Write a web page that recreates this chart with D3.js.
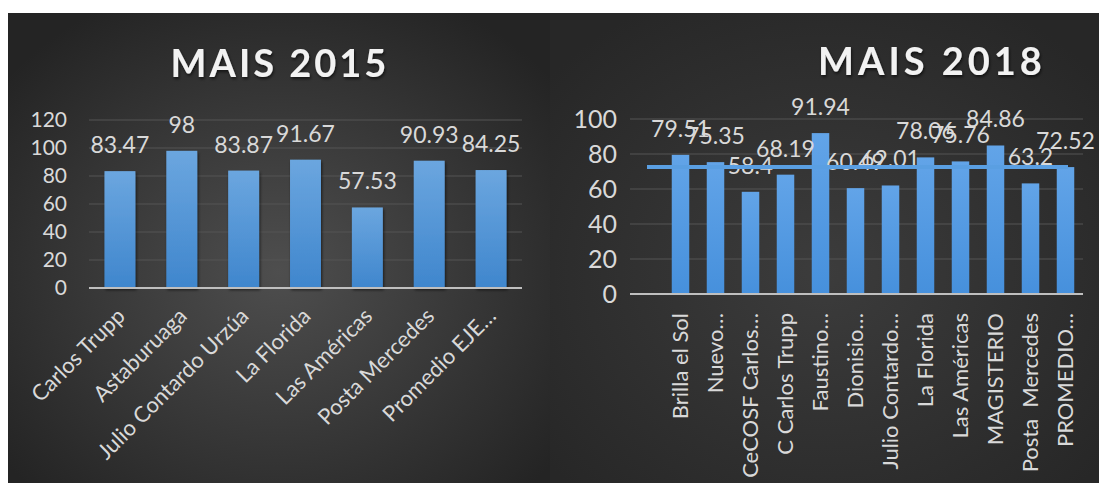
<!DOCTYPE html>
<html>
<head>
<meta charset="utf-8">
<script src="https://cdn.jsdelivr.net/npm/d3@7"></script>
<style>
body {margin:0; background:#ffffff;}
svg text {font-family: Lato, "Open Sans", sans-serif; white-space: pre;}
</style>
</head>
<body>
<svg width="1099" height="483"></svg>
<script>

// two MAIS bar charts side by side

var cat2015 = ["Carlos Trupp","Astaburuaga","Julio Contardo Urzúa","La Florida","Las Américas","Posta Mercedes","Promedio EJE…"]
var val2015 = [83.47, 98, 83.87, 91.67, 57.53, 90.93, 84.25]
var ticks2015 = [0,20,40,60,80,100,120]

var cat2018 = ["Brilla el Sol","Nuevo…","CeCOSF Carlos…","C Carlos Trupp","Faustino…","Dionisio…","Julio Contardo…","La Florida","Las Américas","MAGISTERIO","Posta  Mercedes","PROMEDIO…"]
var val2018 = [79.51, 75.35, 58.4, 68.19, 91.94, 60.49, 62.01, 78.06, 75.76, 84.86, 63.2, 72.52]
var ticks2018 = [0,20,40,60,80,100]
var avg2018 = 72.52

var svg = d3.select("svg")
var defs = svg.append("defs")

var bg1 = defs.append("radialGradient").attr("id","bg1").attr("cx","50%").attr("cy","55%").attr("r","65%")
bg1.append("stop").attr("offset","0%").attr("stop-color","#4e4e4e")
bg1.append("stop").attr("offset","100%").attr("stop-color","#242424")

var bg2 = defs.append("radialGradient").attr("id","bg2").attr("cx","50%").attr("cy","55%").attr("r","65%")
bg2.append("stop").attr("offset","0%").attr("stop-color","#3c3c3c")
bg2.append("stop").attr("offset","100%").attr("stop-color","#272727")

var barGrad = defs.append("linearGradient").attr("id","barGrad").attr("x1",0).attr("y1",0).attr("x2",0).attr("y2",1)
barGrad.append("stop").attr("offset","0%").attr("stop-color","#6ba6df")
barGrad.append("stop").attr("offset","100%").attr("stop-color","#3f86cd")

var barGrad2 = defs.append("linearGradient").attr("id","barGrad2").attr("x1",0).attr("y1",0).attr("x2",0).attr("y2",1)
barGrad2.append("stop").attr("offset","0%").attr("stop-color","#62a4e8")
barGrad2.append("stop").attr("offset","100%").attr("stop-color","#4690dc")

var shadow = defs.append("filter").attr("id","shadow").attr("x","-20%").attr("y","-20%").attr("width","140%").attr("height","160%")
shadow.append("feDropShadow").attr("dx",1).attr("dy",2).attr("stdDeviation",1.5).attr("flood-color","#000").attr("flood-opacity",0.6)

svg.append("rect").attr("x",8).attr("y",13).attr("width",542).attr("height",470).attr("fill","url(#bg1)")
svg.append("rect").attr("x",550).attr("y",13).attr("width",549).attr("height",470).attr("fill","url(#bg2)")


var drawChart = function(opt)
{
    var g = svg.append("g")

    var xScale = d3.scaleBand()
                   .domain(opt.cats)
                   .range([opt.x0, opt.x1])
                   .paddingInner(opt.padIn)
                   .paddingOuter(opt.padIn/2)

    var yScale = d3.scaleLinear()
                   .domain([0, opt.max])
                   .range([opt.yBottom, opt.yTop])

    // gridlines
    g.selectAll(".grid")
     .data(opt.ticks.slice(1))
     .enter()
     .append("line")
     .attr("x1", opt.gx0)
     .attr("x2", opt.x1)
     .attr("y1", function(d){ return yScale(d)})
     .attr("y2", function(d){ return yScale(d)})
     .attr("stroke", "#555555")
     .attr("stroke-width", 1)

    var yAxis = d3.axisLeft(yScale).tickValues(opt.ticks).tickSize(0).tickPadding(0)
    var ya = g.append("g")
      .attr("transform","translate("+opt.tickX+",0)")
      .call(yAxis)
    ya.select(".domain").remove()
    ya.selectAll("text")
      .attr("fill","#d9d9d9")
      .style("font-size", opt.tickSize+"px")

    // bars
    g.selectAll(".bar")
     .data(opt.vals)
     .enter()
     .append("rect")
     .attr("x", function(d,i){ return xScale(opt.cats[i])})
     .attr("y", function(d){ return yScale(d)})
     .attr("width", xScale.bandwidth())
     .attr("height", function(d){ return opt.yBottom - yScale(d)})
     .attr("fill", opt.barFill)
     .attr("filter", opt.barShadow ? "url(#shadow)" : null)

    // axis line
    g.append("line")
     .attr("x1", opt.gx0)
     .attr("x2", opt.x1)
     .attr("y1", opt.yBottom)
     .attr("y2", opt.yBottom)
     .attr("stroke","#bfbfbf")
     .attr("stroke-width",2)

    // value labels
    g.selectAll(".lbl")
     .data(opt.vals)
     .enter()
     .append("text")
     .attr("x", function(d,i){ return xScale(opt.cats[i]) + xScale.bandwidth()/2})
     .attr("y", function(d){ return yScale(d) - opt.lblGap})
     .attr("text-anchor","middle")
     .attr("fill","#d9d9d9")
     .style("font-size", opt.lblSize+"px")
     .text(function(d){ return d})

    // category labels
    g.selectAll(".cat")
     .data(opt.cats)
     .enter()
     .append("text")
     .attr("transform", function(d){
         var cx = xScale(d) + xScale.bandwidth()/2 + opt.catDx
         return "translate("+cx+","+(opt.yBottom + opt.catDy)+") rotate("+opt.rot+")"
     })
     .attr("text-anchor","end")
     .attr("dy","0.35em")
     .attr("fill","#d9d9d9")
     .style("font-size", opt.catSize+"px")
     .text(function(d){ return d})

    // title
    g.append("text")
     .attr("x", opt.titleX)
     .attr("y", opt.titleY)
     .attr("text-anchor","middle")
     .attr("fill","#f2f2f2")
     .attr("filter","url(#shadow)")
     .style("font-size", opt.titleSize+"px")
     .style("font-weight","bold")
     .style("letter-spacing", opt.titleSpacing+"px")
     .text(opt.title)

    return {x:xScale, y:yScale, g:g}
}

drawChart({
    cats: cat2015, vals: val2015, ticks: ticks2015, max: 120,
    x0: 89, x1: 522, gx0: 89, padIn: 0.5, barFill: "url(#barGrad)",
    yBottom: 288, yTop: 120, tickX: 67, tickSize: 21,
    lblSize: 23, lblGap: 18, barShadow: true,
    catDx: 1, catDy: 24, rot: -45, catSize: 22,
    title: "MAIS 2015", titleX: 280, titleY: 77, titleSize: 38, titleSpacing: 3
})

var right = drawChart({
    cats: cat2018, vals: val2018, ticks: ticks2018, max: 100,
    x0: 663, x1: 1083, gx0: 630, padIn: 0.5, barFill: "url(#barGrad2)",
    yBottom: 294, yTop: 119, tickX: 617, tickSize: 25,
    lblSize: 23, lblGap: 18, barShadow: false,
    catDx: 0, catDy: 19, rot: -90, catSize: 22,
    title: "MAIS 2018", titleX: 932, titleY: 75, titleSize: 38, titleSpacing: 4
})

// average line drawn over the labels
right.g.append("line")
  .attr("x1", 647)
  .attr("x2", 1068)
  .attr("y1", right.y(avg2018))
  .attr("y2", right.y(avg2018))
  .attr("stroke","#5a9fe2")
  .attr("stroke-width",4)

</script>
</body>
</html>
